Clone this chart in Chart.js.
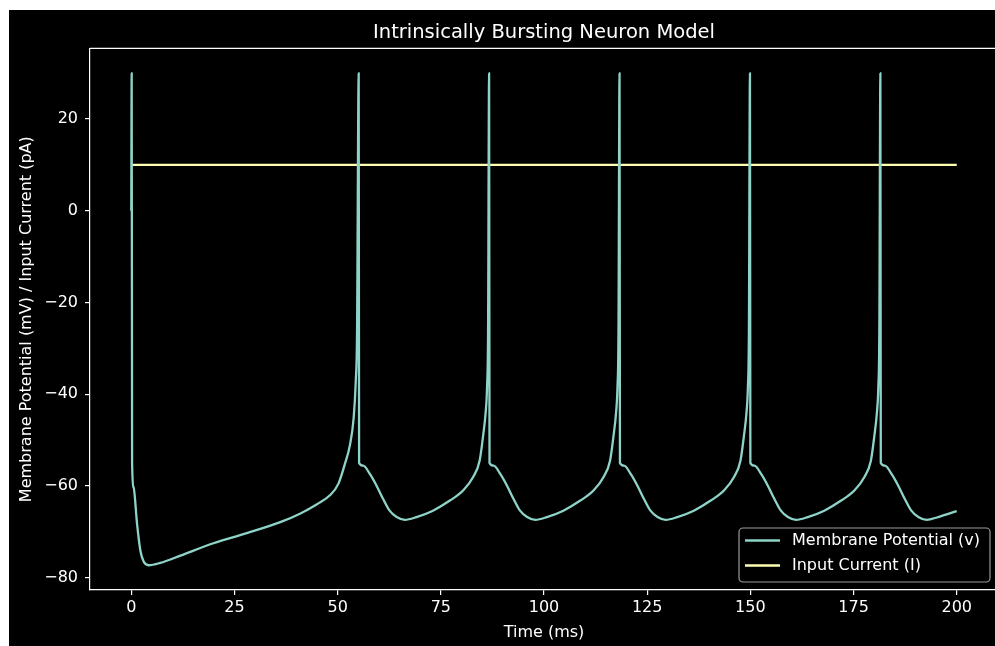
<!DOCTYPE html>
<html>
<head>
<meta charset="utf-8">
<title>Intrinsically Bursting Neuron Model</title>
<script src="https://cdn.jsdelivr.net/npm/chart.js@4.4.1/dist/chart.umd.min.js"></script>
<style>
    html, body { margin: 0; padding: 0; background: #fff; overflow: hidden; }
    #frame { position: absolute; left: 9px; top: 10px; width: 1010px; height: 636px; background: #000; }
</style>
</head>
<body>
<div id="frame"><canvas id="chart" width="1010" height="636"></canvas></div>
<script>
// Intrinsically bursting neuron: membrane potential and input current
// values

const timeMs = [
    0, 0.1, 0.2, 0.55, 1.4, 2.2, 3.0, 4.2, 7.0, 11.9, 19.9, 28.0, 36.1, 41.0, 45.0, 48.2, 50.2, 51.8, 53.0, 53.9, 54.4, 54.7, 55.1,
    55.2, 56.2, 57.8, 59.4, 61.0, 62.6, 64.3, 66.3, 69.1, 73.1, 77.2, 80.4, 82.8, 84.4, 85.2, 85.9, 86.2, 86.45, 86.7,
    86.8, 87.8, 89.4, 91.0, 92.6, 94.2, 95.9, 97.9, 100.7, 104.7, 108.8, 112.0, 114.4, 116.0, 116.8, 117.5, 117.8, 118.05, 118.3,
    118.4, 119.4, 121.0, 122.6, 124.2, 125.8, 127.5, 129.5, 132.3, 136.3, 140.4, 143.6, 146.0, 147.6, 148.4, 149.1, 149.4, 149.65, 149.9,
    150.0, 151.0, 152.6, 154.2, 155.8, 157.4, 159.1, 161.1, 163.9, 167.9, 172.0, 175.2, 177.6, 179.2, 180.0, 180.7, 181.0, 181.25, 181.5,
    181.6, 182.6, 184.2, 185.8, 187.4, 189.0, 190.7, 192.7, 195.5, 200.0
];

const membraneMv = [
    0, 30, -55, -60.3, -68.3, -74.1, -76.5, -77.3, -76.8, -75.2, -72.5, -70.3, -67.9, -66.0, -64.0, -62.0, -59.5, -55.1, -51.0, -45.0, -37.0, -26.8, 30,
    -55, -55.6, -57.4, -59.9, -62.8, -65.4, -66.8, -67.4, -66.8, -65.4, -63.2, -61.0, -58.1, -54.5, -49.4, -43.6, -38.5, -26.0, 30,
    -55, -55.6, -57.4, -59.9, -62.8, -65.4, -66.8, -67.4, -66.8, -65.4, -63.2, -61.0, -58.1, -54.5, -49.4, -43.6, -38.5, -26.0, 30,
    -55, -55.6, -57.4, -59.9, -62.8, -65.4, -66.8, -67.4, -66.8, -65.4, -63.2, -61.0, -58.1, -54.5, -49.4, -43.6, -38.5, -26.0, 30,
    -55, -55.6, -57.4, -59.9, -62.8, -65.4, -66.8, -67.4, -66.8, -65.4, -63.2, -61.0, -58.1, -54.5, -49.4, -43.6, -38.5, -26.0, 30,
    -55, -55.6, -57.4, -59.9, -62.8, -65.4, -66.8, -67.4, -66.8, -65.5
];

const currentTime = [0, 200];
const currentPa = [10, 10];

const xTicks = [0, 25, 50, 75, 100, 125, 150, 175, 200];
const yTicks = [-80, -60, -40, -20, 0, 20];

const FONT = 'DejaVu Sans';

function fmt(v) {
    return v < 0 ? '\u2212' + Math.abs(v) : String(v);
}

// top / right spines (left and bottom come from the axis borders)
const framePlugin = {
    id: 'frame',
    afterDraw(chart) {
        const { ctx, chartArea } = chart;
        ctx.save();
        ctx.strokeStyle = '#fff';
        ctx.lineWidth = 1.2;
        ctx.beginPath();
        ctx.moveTo(chartArea.left, chartArea.top);
        ctx.lineTo(chartArea.right, chartArea.top);
        ctx.lineTo(chartArea.right, chartArea.bottom);
        ctx.stroke();
        ctx.restore();
    }
};

// matplotlib style legend box, lower right inside the axes
const legendPlugin = {
    id: 'boxLegend',
    afterDraw(chart) {
        const { ctx, chartArea } = chart;
        const w = 251, h = 54;
        const x0 = chartArea.right - 8 - w;
        const y0 = chartArea.bottom - 8 - h;
        ctx.save();
        ctx.beginPath();
        ctx.roundRect(x0, y0, w, h, 4);
        ctx.fillStyle = 'rgba(0,0,0,0.8)';
        ctx.fill();
        ctx.strokeStyle = '#999';
        ctx.lineWidth = 1.2;
        ctx.stroke();
        chart.data.datasets.forEach((ds, i) => {
            const y = y0 + 12.5 + i * 25;
            ctx.strokeStyle = ds.borderColor;
            ctx.lineWidth = 2.3;
            ctx.beginPath();
            ctx.moveTo(x0 + 6, y);
            ctx.lineTo(x0 + 41, y);
            ctx.stroke();
            ctx.fillStyle = '#fff';
            ctx.font = '16px "' + FONT + '"';
            ctx.textBaseline = 'middle';
            ctx.textAlign = 'left';
            ctx.fillText(ds.label, x0 + 53, y);
        });
        ctx.restore();
    }
};

const ctx = document.getElementById('chart').getContext('2d');

new Chart(ctx, {
    type: 'line',
    data: {
        datasets: [
            {
                label: 'Membrane Potential (v)',
                data: timeMs.map((t, i) => ({ x: t, y: membraneMv[i] })),
                borderColor: '#8dd3c7',
                borderWidth: 2.3,
                pointRadius: 0,
                borderJoinStyle: 'round',
                cubicInterpolationMode: 'monotone'
            },
            {
                label: 'Input Current (I)',
                data: currentTime.map((t, i) => ({ x: t, y: currentPa[i] })),
                borderColor: '#feffb3',
                borderWidth: 2.3,
                pointRadius: 0
            }
        ]
    },
    options: {
        responsive: false,
        animation: false,
        devicePixelRatio: 1,
        layout: { padding: { left: 0, right: 21, top: 0, bottom: 0 } },
        plugins: {
            legend: { display: false },
            tooltip: { enabled: false },
            title: {
                display: true,
                fullSize: false,
                text: 'Intrinsically Bursting Neuron Model',
                color: '#fff',
                font: { family: FONT, size: 19.5, weight: 'normal' },
                padding: { top: 11, bottom: 4 }
            }
        },
        scales: {
            x: {
                type: 'linear',
                min: -10,
                max: 210,
                afterBuildTicks: (scale) => { scale.ticks = xTicks.map(v => ({ value: v })); },
                afterFit: (scale) => { scale.height = 56; },
                ticks: {
                    color: '#fff',
                    font: { family: FONT, size: 16 },
                    padding: 3,
                    maxRotation: 0,
                    callback: (v) => fmt(v)
                },
                grid: { color: '#fff', drawOnChartArea: false, tickLength: 5, lineWidth: 1.2 },
                border: { color: '#fff', width: 1.2 },
                title: {
                    display: true,
                    text: 'Time (ms)',
                    color: '#fff',
                    font: { family: FONT, size: 16 },
                    padding: { top: 0, bottom: 4 }
                }
            },
            y: {
                type: 'linear',
                min: -82.7,
                max: 35.4,
                afterBuildTicks: (scale) => { scale.ticks = yTicks.map(v => ({ value: v })); },
                afterFit: (scale) => { scale.width = 81; },
                ticks: {
                    color: '#fff',
                    font: { family: FONT, size: 16 },
                    padding: 7,
                    callback: (v) => fmt(v)
                },
                grid: { color: '#fff', drawOnChartArea: false, tickLength: 5, lineWidth: 1.2 },
                border: { color: '#fff', width: 1.2 },
                title: {
                    display: true,
                    text: 'Membrane Potential (mV) / Input Current (pA)',
                    color: '#fff',
                    font: { family: FONT, size: 16 },
                    padding: { top: 8, bottom: 0 }
                }
            }
        }
    },
    plugins: [framePlugin, legendPlugin]
});
</script>
</body>
</html>
